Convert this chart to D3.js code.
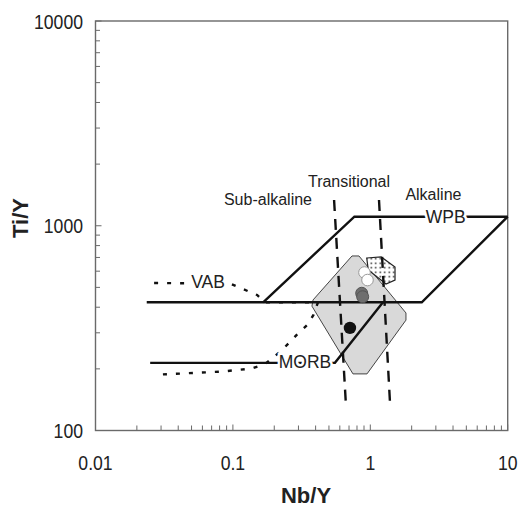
<!DOCTYPE html>
<html>
<head>
<meta charset="utf-8">
<script src="https://cdn.jsdelivr.net/npm/d3@7"></script>
<style>
  body { margin: 0; background: #fff; }
  svg { display: block; }
</style>
</head>
<body>
<script>
// axis ticks
const xTickLabels = [0.01, 0.1, 1, 10];
const yTickLabels = [100, 1000, 10000];

// field boundaries (Nb/Y, Ti/Y)
const vabUpper = [[0.0236, 423], [2.37, 423], [10, 1107]];
const wpbField = [[0.166, 423], [0.766, 1107], [10, 1107]];
const morbLine = [[0.025, 214], [0.553, 214], [1.237, 423]];
const vabDotted = [[0.0267, 525], [0.095, 522], [0.150, 459], [0.171, 423], [0.4165, 423],
  [0.385, 366], [0.348, 328], [0.2913, 293], [0.2397, 256], [0.2026, 231],
  [0.171, 211], [0.1377, 201], [0.0833, 194], [0.0267, 187]];
const subTransLine = [[0.545, 1336], [0.665, 133]];
const transAlkLine = [[1.157, 1336], [1.39, 138]];

// sample fields
const grayField = [[0.736, 712], [0.827, 712], [1.818, 375], [1.818, 346], [0.946, 189],
  [0.748, 189], [0.376, 405], [0.383, 434]];
const stippleField = [[0.942, 696], [1.2, 704], [1.513, 629], [1.513, 543], [1.301, 519], [0.967, 608]];

// samples
const whiteX = [0.907, 0.954];
const whiteY = [591, 543];
const grayX = [0.866, 0.880];
const grayY = [468, 450];
const blackX = [0.711];
const blackY = [317];

const W = 521, H = 509;
const svg = d3.select("body").append("svg")
  .attr("width", W)
  .attr("height", H);

const defs = svg.append("defs");
const pat = defs.append("pattern")
  .attr("id", "stip")
  .attr("patternUnits", "userSpaceOnUse")
  .attr("width", 4.5)
  .attr("height", 4.5);
pat.append("rect").attr("width", 4.5).attr("height", 4.5).attr("fill", "#fff");
pat.append("rect").attr("x", 1.5).attr("y", 1.5).attr("width", 1.5).attr("height", 1.5).attr("fill", "#222");

const x = d3.scaleLog().domain([0.01, 10]).range([95.5, 507.7]);
const y = d3.scaleLog().domain([100, 10000]).range([430.5, 21]);

const font = "'Liberation Sans', Arial, sans-serif";
const line = d3.line().x(d => x(d[0])).y(d => y(d[1]));

// frame
svg.append("rect")
  .attr("x", x(0.01))
  .attr("y", y(10000))
  .attr("width", x(10) - x(0.01))
  .attr("height", y(100) - y(10000))
  .attr("fill", "none")
  .attr("stroke", "#6a6a6a")
  .attr("stroke-width", 1.4);

// ticks, pointing inward
const xMinor = x.ticks();
svg.selectAll(".xtick")
  .data(xMinor)
  .enter()
  .append("line")
  .attr("x1", d => x(d))
  .attr("x2", d => x(d))
  .attr("y1", y(100))
  .attr("y2", d => y(100) - (xTickLabels.includes(d) ? 6 : 5))
  .attr("stroke", "#6a6a6a")
  .attr("stroke-width", 1);

const yMinor = y.ticks();
svg.selectAll(".ytick")
  .data(yMinor)
  .enter()
  .append("line")
  .attr("x1", x(0.01))
  .attr("x2", d => x(0.01) + (yTickLabels.includes(d) ? 6 : 4.5))
  .attr("y1", d => y(d))
  .attr("y2", d => y(d))
  .attr("stroke", "#6a6a6a")
  .attr("stroke-width", 1);

// tick labels
svg.selectAll(".xlab")
  .data(xTickLabels)
  .enter()
  .append("text")
  .attr("transform", d => "translate(" + x(d) + ",470) scale(0.84,1)")
  .attr("text-anchor", "middle")
  .attr("font-family", font)
  .attr("font-size", "21px")
  .attr("fill", "#222")
  .text(d => d);

svg.selectAll(".ylab")
  .data(yTickLabels)
  .enter()
  .append("text")
  .attr("transform", d => "translate(83," + (y(d) + 7.5) + ") scale(0.84,1)")
  .attr("text-anchor", "end")
  .attr("font-family", font)
  .attr("font-size", "21px")
  .attr("fill", "#222")
  .text(d => d);

// axis titles
svg.append("text")
  .attr("transform", "translate(306,503)")
  .attr("text-anchor", "middle")
  .attr("font-family", font)
  .attr("font-weight", "bold")
  .attr("font-size", "22px")
  .attr("fill", "#222")
  .text("Nb/Y");

svg.append("text")
  .attr("transform", "translate(28,218) rotate(-90)")
  .attr("text-anchor", "middle")
  .attr("font-family", font)
  .attr("font-weight", "bold")
  .attr("font-size", "22px")
  .attr("fill", "#222")
  .text("Ti/Y");

// gray sample field
svg.append("path")
  .attr("d", line(grayField) + "Z")
  .attr("fill", "#d9d9d9")
  .attr("stroke", "#444")
  .attr("stroke-width", 1)
  .attr("stroke-linejoin", "round");

// stippled field
svg.append("path")
  .attr("d", line(stippleField) + "Z")
  .attr("fill", "url(#stip)")
  .attr("stroke", "#222")
  .attr("stroke-width", 1.2);

// solid boundaries
[vabUpper, wpbField, morbLine].forEach(pts => {
  svg.append("path")
    .attr("d", line(pts))
    .attr("fill", "none")
    .attr("stroke", "#111")
    .attr("stroke-width", 2.4);
});

// dotted VAB boundary
svg.append("path")
  .attr("d", line(vabDotted))
  .attr("fill", "none")
  .attr("stroke", "#111")
  .attr("stroke-width", 2.4)
  .attr("stroke-dasharray", "4,9");

// dashed alkalinity boundaries
[subTransLine, transAlkLine].forEach(pts => {
  svg.append("path")
    .attr("d", line(pts))
    .attr("fill", "none")
    .attr("stroke", "#111")
    .attr("stroke-width", 2.4)
    .attr("stroke-dasharray", "11,8");
});

// samples
svg.selectAll(".white")
  .data(whiteX)
  .enter()
  .append("circle")
  .attr("cx", d => x(d))
  .attr("cy", (d, i) => y(whiteY[i]))
  .attr("r", 5.8)
  .attr("fill", "#fff")
  .attr("stroke", "#999")
  .attr("stroke-width", 1);

svg.selectAll(".gray")
  .data(grayX)
  .enter()
  .append("circle")
  .attr("cx", d => x(d))
  .attr("cy", (d, i) => y(grayY[i]))
  .attr("r", 6)
  .attr("fill", "#6e6e6e")
  .attr("stroke", "#555")
  .attr("stroke-width", 1);

svg.selectAll(".black")
  .data(blackX)
  .enter()
  .append("circle")
  .attr("cx", d => x(d))
  .attr("cy", (d, i) => y(blackY[i]))
  .attr("r", 6.2)
  .attr("fill", "#111");

// field labels
function label(txt, px, py, size, halo) {
  svg.append("text")
    .attr("x", x(px))
    .attr("y", y(py))
    .attr("text-anchor", "middle")
    .attr("font-family", font)
    .attr("font-size", size + "px")
    .attr("fill", "#222")
    .attr("stroke", halo ? "#fff" : "none")
    .attr("stroke-width", halo ? 5 : 0)
    .attr("paint-order", "stroke")
    .text(txt);
}
label("Sub-alkaline", 0.180, 1263, 16, false);
label("Transitional", 0.70, 1547, 16, false);
label("Alkaline", 2.88, 1336, 16, false);
label("WPB", 3.54, 1031, 17.5, true);
label("VAB", 0.0659, 495, 17.5, true);
label("MORB", 0.335, 202, 17.5, true);
</script>
</body>
</html>
